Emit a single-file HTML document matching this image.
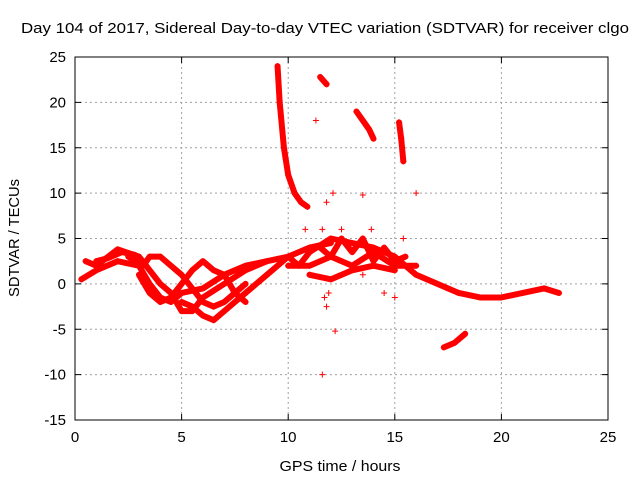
<!DOCTYPE html>
<html><head><meta charset="utf-8"><style>
body{margin:0;background:#fff}
svg text{font-family:"Liberation Sans",sans-serif;font-size:14px;fill:#000}
</style></head><body>
<svg width="640" height="480" xmlns="http://www.w3.org/2000/svg">
<text x="325" y="33" text-anchor="middle" textLength="608" lengthAdjust="spacingAndGlyphs" style="font-size:15px">Day 104 of 2017, Sidereal Day-to-day VTEC variation (SDTVAR) for receiver clgo</text>
<g id="grid"></g>
<g id="axes"></g>
<g id="marks"></g>
<rect x="75" y="57" width="533" height="363" fill="none" stroke="#000"/>
<text x="340" y="471" text-anchor="middle" textLength="121" lengthAdjust="spacingAndGlyphs" style="font-size:15px">GPS time / hours</text>
<text transform="translate(19,238) rotate(-90)" text-anchor="middle" textLength="118" lengthAdjust="spacingAndGlyphs" style="font-size:15px">SDTVAR / TECUs</text>
</svg>
<script>
const xTicks=[0,5,10,15,20,25];
const yTicks=[-15,-10,-5,0,5,10,15,20,25];
const trackA=[[0.3,0.5],[1,1.5],[2,2.5],[3,2],[3.5,0],[4,-1.5],[4.5,-2],[5,-1],[6,-0.5],[7,1],[8,2],[9,2.5],[10,3],[11,4],[12,4.5]];
const trackB=[[0.5,2.5],[1,2],[2,3.8],[3,3],[3.5,1.5],[4,0],[4.5,-1],[5,-3],[5.5,-3],[6,-1.5],[7,0],[8,1.5],[9,2.5]];
const trackC=[[2.5,3],[3.2,2],[3.5,3],[4,3],[4.5,2],[5,1],[5.5,-0.5],[6,-2],[6.5,-2.5],[7,-2],[7.5,-1],[8,0]];
const trackD=[[3,1],[3.5,-1],[4,-2],[4.5,-1.5],[5,0],[5.5,1.5],[6,2.5],[6.5,1.5],[7,1],[7.5,-1],[8,-2]];
const trackE=[[5,-2],[5.5,-2.5],[6,-3.5],[6.5,-4],[7,-3],[7.5,-2],[8,-1],[8.5,0],[9,1],[9.5,2],[10,3],[10.5,2],[11,3.5],[12,5],[13,4.5],[14,4],[15,3],[15.5,2],[16,1],[17,0],[18,-1],[19,-1.5],[20,-1.5],[21,-1],[22,-0.5],[22.7,-1]];
const trackF=[[10,2],[11,2],[12,3],[13,2],[14,3.5],[15,2],[16,2]];
const trackG=[[11,1],[12,0.5],[13,1.5],[14,2],[15,1.5]];
const trackM=[[11.5,4],[12,3],[12.5,5],[13,3.5],[13.5,5],[14,2.5],[14.5,4],[15,2.5],[15.5,3]];
const trackN=[[1,2.5],[1.5,2.8],[2.2,3.5],[2.8,3.2]];
const trackH=[[9.5,24],[9.6,20],[9.8,15],[10,12],[10.3,10],[10.6,9],[10.9,8.5]];
const trackI=[[11.5,22.8],[11.8,22]];
const trackJ=[[13.2,19],[13.5,18],[13.8,17],[14,16]];
const trackK=[[15.2,17.8],[15.3,16],[15.4,13.5]];
const trackL=[[17.3,-7],[17.8,-6.5],[18.3,-5.5]];
const scatter=[[11.3,18],[11.6,-10],[11.8,-2.5],[12.2,-5.2],[12.1,10],[11.8,9],[13.5,9.8],[14.5,-1],[15,-1.5],[16,10],[13.5,1],[11.9,-1],[11.6,6],[12.5,6],[13.9,6],[10.8,6],[15.4,5],[11.7,-1.5]];
const tracks=[trackA,trackB,trackC,trackD,trackE,trackF,trackG,trackM,trackN,trackH,trackI,trackJ,trackK,trackL];
const X=v=>75+v*533/25, Y=v=>420-(v+15)*363/40;
const NS="http://www.w3.org/2000/svg";
const grid=document.getElementById('grid'),axes=document.getElementById('axes'),marks=document.getElementById('marks');
function mk(t,a,p){const e=document.createElementNS(NS,t);for(const k in a)e.setAttribute(k,a[k]);p.appendChild(e);return e;}
xTicks.forEach(v=>{
  if(v>0&&v<25){const l=mk('line',{x1:X(v),x2:X(v),y1:57,y2:420,stroke:'#a0a0a0','stroke-dasharray':'2,3'},grid);
  
  }
  mk('line',{x1:X(v),x2:X(v),y1:420,y2:414,stroke:'#000'},axes);
  mk('line',{x1:X(v),x2:X(v),y1:57,y2:63,stroke:'#000'},axes);
  const t=mk('text',{x:X(v),y:442,'text-anchor':'middle',style:'font-size:15px'},axes);t.textContent=v;
  
  
});
yTicks.forEach(v=>{
  if(v>-15&&v<25){const l=mk('line',{x1:75,x2:608,y1:Y(v),y2:Y(v),stroke:'#a0a0a0','stroke-dasharray':'2,3'},grid);
  
  }
  mk('line',{x1:75,x2:81,y1:Y(v),y2:Y(v),stroke:'#000'},axes);
  mk('line',{x1:602,x2:608,y1:Y(v),y2:Y(v),stroke:'#000'},axes);
  const t=mk('text',{x:66,y:Y(v)+5,'text-anchor':'end',style:'font-size:15px'},axes);t.textContent=v;
  
  
});
function plus(x,y){mk('path',{d:`M${X(x)-3},${Y(y)}h6M${X(x)},${Y(y)-3}v6`,stroke:'#f00','stroke-width':1},marks);}
tracks.forEach(tr=>{
  const p=mk('polyline',{points:tr.map(d=>X(d[0])+','+Y(d[1])).join(' '),fill:'none',stroke:'#f00','stroke-width':6,'stroke-linejoin':'round','stroke-linecap':'round'},marks);
  
  
  tr.forEach(d=>plus(d[0],d[1]));
});
scatter.forEach(d=>plus(d[0],d[1]));
</script>
</body></html>
